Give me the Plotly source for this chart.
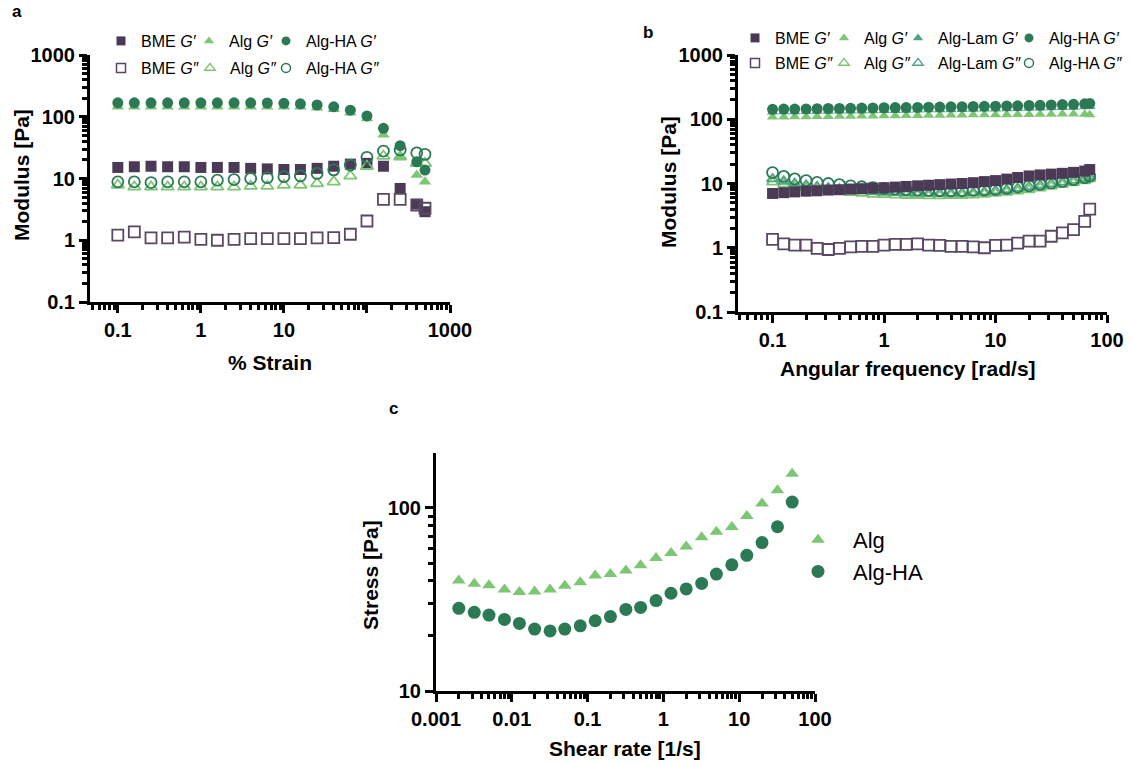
import plotly.graph_objects as go

W, H = 1132, 765
FONT = "Liberation Sans, Arial, sans-serif"

# ---------------- Panel a: strain sweep ----------------
strain = [0.1, 0.158, 0.251, 0.398, 0.631, 1.0, 1.58, 2.51, 3.98, 6.31,
          10, 15.8, 25.1, 39.8, 63.1, 100, 158, 251, 398, 500]
a_bme_gp = [15.1, 15.5, 15.8, 15.5, 15.5, 15.1, 15.1, 15.1, 14.6, 14.3,
            14.0, 14.0, 14.6, 15.8, 17.1, 17.6, 15.8, 6.9, 3.85, 2.9]
a_bme_gpp = [1.21, 1.37, 1.09, 1.09, 1.12, 1.03, 1.0, 1.03, 1.06, 1.06,
             1.06, 1.06, 1.09, 1.1, 1.25, 2.05, 4.6, 4.6, 3.7, 3.3]
a_alg_gp = [145, 145, 145, 145, 145, 145, 145, 145, 145, 145,
            145, 145, 140, 132, 116, 94, 51, 23, 11.4, 8.9]
a_alg_gpp = [7.8, 7.3, 7.3, 7.3, 7.3, 7.3, 7.3, 7.3, 7.5, 7.5,
             7.8, 7.8, 8.3, 8.85, 11, 15.8, 23, 22.5, 17.6, 17.6]
a_ha_gp = [168, 168, 168, 168, 168, 168, 168, 168, 168, 167,
           165, 162, 155, 145, 128, 103, 65, 34, 18.6, 13.7]
a_ha_gpp = [8.85, 8.85, 8.6, 8.85, 8.85, 8.85, 9.4, 9.6, 10.0, 10.3,
            10.7, 11.0, 12.1, 13.8, 16.5, 22, 27.8, 29, 26, 24.6]

# ---------------- Panel b: frequency sweep ----------------
freq = [0.1, 0.126, 0.158, 0.2, 0.251, 0.316, 0.398, 0.501, 0.631, 0.794,
        1.0, 1.26, 1.58, 2.0, 2.51, 3.16, 3.98, 5.01, 6.31, 7.94,
        10, 12.6, 15.8, 20, 25.1, 31.6, 39.8, 50.1, 63.1, 70]
b_bme_gp = [7.0, 7.2, 7.4, 7.6, 7.7, 7.9, 8.0, 8.2, 8.3, 8.5,
            8.6, 8.8, 9.0, 9.2, 9.4, 9.6, 9.8, 10.0, 10.3, 10.7,
            11.1, 11.7, 12.4, 13.1, 13.6, 14.0, 14.4, 14.9, 15.6, 16.5]
b_bme_gpp = [1.35, 1.15, 1.1, 1.1, 0.98, 0.94, 0.98, 1.03, 1.05, 1.05,
             1.1, 1.13, 1.13, 1.15, 1.1, 1.09, 1.05, 1.05, 1.03, 1.0,
             1.09, 1.1, 1.18, 1.27, 1.27, 1.51, 1.7, 1.92, 2.58, 3.98]
b_alg_gp = [108, 108, 109, 109, 110, 110, 111, 111, 112, 112,
            113, 113, 114, 114, 115, 115, 116, 116, 117, 117,
            118, 118, 119, 119, 120, 120, 121, 121, 120, 118]
b_alg_gpp = [10.5, 9.8, 9.1, 8.6, 8.2, 7.8, 7.5, 7.2, 7.0, 6.8,
             6.7, 6.6, 6.5, 6.5, 6.4, 6.4, 6.5, 6.5, 6.6, 6.8,
             7.0, 7.3, 7.6, 8.0, 8.5, 9.0, 9.6, 10.2, 11.0, 11.8]
b_lam_gp = [130, 131, 131, 132, 133, 133, 134, 135, 135, 136,
            137, 137, 138, 139, 140, 140, 141, 142, 143, 144,
            145, 146, 147, 148, 149, 151, 152, 154, 156, 158]
b_lam_gpp = [11.8, 10.8, 10.0, 9.4, 8.9, 8.5, 8.2, 7.9, 7.7, 7.5,
             7.3, 7.2, 7.1, 7.0, 7.0, 7.0, 7.0, 7.1, 7.2, 7.4,
             7.7, 8.0, 8.4, 8.9, 9.4, 9.9, 10.5, 11.2, 12.0, 12.8]
b_ha_gp = [143, 144, 144, 145, 146, 147, 147, 148, 149, 150,
           151, 152, 152, 153, 154, 155, 156, 157, 158, 159,
           160, 161, 162, 164, 165, 167, 169, 171, 174, 176]
b_ha_gpp = [14.8, 12.9, 11.8, 11.1, 10.4, 10.0, 9.6, 9.2, 8.9, 8.6,
            8.4, 8.2, 8.0, 7.9, 7.8, 7.7, 7.7, 7.7, 7.8, 7.9,
            8.1, 8.4, 8.8, 9.2, 9.7, 10.2, 10.8, 11.5, 12.3, 13.0]

# ---------------- Panel c: flow curve ----------------
shear = [0.002, 0.0032, 0.005, 0.008, 0.0126, 0.02, 0.032, 0.05, 0.08, 0.126,
         0.2, 0.32, 0.5, 0.8, 1.26, 2, 3.2, 5, 8, 12.6, 20, 32, 50]
c_alg = [40.2, 38.5, 37.8, 35.9, 34.7, 35.0, 35.9, 37.6, 39.3, 42.8,
         43.6, 45.5, 48.6, 53.3, 56.7, 61.5, 69.2, 74.2, 78.7, 90.2, 105.6, 124.8, 153.5]
c_ha = [28.3, 26.9, 26.0, 24.6, 23.4, 21.8, 21.3, 21.8, 22.7, 24.2,
        25.5, 27.9, 28.6, 31.2, 34.2, 36.1, 38.7, 43.5, 48.9, 55.1, 64.7, 78.9, 107.7]

BME = "#4b3a55"
BME_O = "#5a4863"
ALG = "#7cc674"
LAM = "#4ea584"
HA = "#2c7a55"

fig = go.Figure()


def add(xa, ya, x, y, symbol, color, size, lw=0):
    fig.add_trace(go.Scatter(
        x=x, y=y, mode="markers", xaxis=xa, yaxis=ya, showlegend=False,
        hoverinfo="skip",
        marker=dict(symbol=symbol, color=color, size=size,
                    line=dict(width=lw, color=color))))


def leg(name, symbol, color, legend, lw_px, size=9, olw=0):
    fig.add_trace(go.Scatter(
        x=[None], y=[None], mode="markers", name=name, legend=legend,
        legendwidth=lw_px, xaxis="x", yaxis="y", hoverinfo="skip",
        marker=dict(symbol=symbol, color=color, size=size,
                    line=dict(width=olw, color=color))))


# panel a
add("x", "y", strain, a_bme_gp, "square", BME, 11)
add("x", "y", strain, a_bme_gpp, "square-open", BME_O, 11, 1.8)
add("x", "y", strain, a_alg_gp, "triangle-up", ALG, 11)
add("x", "y", strain, a_alg_gpp, "triangle-up-open", ALG, 11, 1.8)
add("x", "y", strain, a_ha_gp, "circle", HA, 11)
add("x", "y", strain, a_ha_gpp, "circle-open", HA, 11, 1.8)

# panel b
add("x2", "y2", freq, b_bme_gpp, "square-open", BME_O, 11, 1.8)
add("x2", "y2", freq, b_alg_gp, "triangle-up", ALG, 10)
add("x2", "y2", freq, b_alg_gpp, "triangle-up-open", ALG, 10, 1.8)
add("x2", "y2", freq, b_lam_gp, "triangle-up", LAM, 10)
add("x2", "y2", freq, b_lam_gpp, "triangle-up-open", LAM, 10, 1.8)
add("x2", "y2", freq, b_ha_gp, "circle", HA, 11)
add("x2", "y2", freq, b_ha_gpp, "circle-open", HA, 11, 1.8)
add("x2", "y2", freq, b_bme_gp, "square", BME, 11)

# panel c
add("x3", "y3", shear, c_alg, "triangle-up", ALG, 12)
add("x3", "y3", shear, c_ha, "circle", HA, 13)

# legends
leg("BME <i>G′</i>", "square", BME, "legend", 43)
leg("Alg <i>G′</i>", "triangle-up", ALG, "legend", 32)
leg("Alg-HA <i>G′</i>", "circle", HA, "legend", 82)
leg("BME <i>G″</i>", "square-open", BME_O, "legend2", 44, 9, 1.5)
leg("Alg <i>G″</i>", "triangle-up-open", ALG, "legend2", 31, 9, 1.5)
leg("Alg-HA <i>G″</i>", "circle-open", HA, "legend2", 82, 9, 1.5)

leg("BME <i>G′</i>", "square", BME, "legend3", 44)
leg("Alg <i>G′</i>", "triangle-up", ALG, "legend3", 29)
leg("Alg-Lam <i>G′</i>", "triangle-up", LAM, "legend3", 66)
leg("Alg-HA <i>G′</i>", "circle", HA, "legend3", 76)
leg("BME <i>G″</i>", "square-open", BME_O, "legend4", 44, 9, 1.5)
leg("Alg <i>G″</i>", "triangle-up-open", ALG, "legend4", 29, 9, 1.5)
leg("Alg-Lam <i>G″</i>", "triangle-up-open", LAM, "legend4", 66, 9, 1.5)
leg("Alg-HA <i>G″</i>", "circle-open", HA, "legend4", 76, 9, 1.5)

leg("Alg", "triangle-up", ALG, "legend5", 60, 12)
leg("Alg-HA", "circle", HA, "legend5", 60, 13)


def dom_x(a, b):
    return [a / W, b / W]


def dom_y(top, bottom):
    return [1 - bottom / H, 1 - top / H]


def minor_vals(e0, e1):
    return [m * 10 ** e for e in range(e0, e1) for m in range(2, 10)]


def axis(domain, rng, tickvals, ticktext, minors, anchor):
    return dict(
        type="log", domain=domain, range=rng, anchor=anchor,
        showline=True, linewidth=3, linecolor="black", mirror=False,
        showgrid=False, zeroline=False,
        ticks="outside", ticklen=8, tickwidth=3, tickcolor="black",
        tickmode="array", tickvals=tickvals, ticktext=ticktext,
        tickfont=dict(family=FONT, size=20, color="black", weight="bold"),
        minor=dict(ticks="outside", ticklen=5, tickwidth=2.5, tickcolor="black",
                   tickmode="array", tickvals=minors, showgrid=False),
    )


leg_common = dict(orientation="h", xanchor="left", yanchor="middle",
                  font=dict(family=FONT, size=16, color="black"),
                  bgcolor="rgba(0,0,0,0)", borderwidth=0, itemclick=False,
                  itemdoubleclick=False, entrywidthmode="pixels")

fig.update_layout(
    width=W, height=H,
    margin=dict(l=0, r=0, t=0, b=0, autoexpand=False),
    paper_bgcolor="white", plot_bgcolor="white",
    font=dict(family=FONT, color="black"),
    xaxis=axis(dom_x(90, 450), [-1.335, 3], [0.1, 1, 10, 100, 1000],
               ["0.1", "1", "10", "", "1000"], minor_vals(-2, 3), "y"),
    yaxis=axis(dom_y(55, 302), [-1, 3], [0.1, 1, 10, 100, 1000],
               ["0.1", "1", "10", "100", "1000"], minor_vals(-1, 3), "x"),
    xaxis2=axis(dom_x(738, 1107), [-1.31, 2], [0.1, 1, 10, 100],
                ["0.1", "1", "10", "100"], minor_vals(-2, 2), "y2"),
    yaxis2=axis(dom_y(55, 312), [-1, 3], [0.1, 1, 10, 100, 1000],
                ["0.1", "1", "10", "100", "1000"], minor_vals(-1, 3), "x2"),
    xaxis3=axis(dom_x(436, 815), [-3, 2], [0.001, 0.01, 0.1, 1, 10, 100],
                ["0.001", "0.01", "0.1", "1", "10", "100"], minor_vals(-3, 2), "y3"),
    yaxis3=axis(dom_y(453, 691), [1, 2.30], [10, 100], ["10", "100"],
                minor_vals(1, 2), "x3"),
    legend=dict(leg_common, x=(123 - 22) / W, y=1 - 41 / H),
    legend2=dict(leg_common, x=(123 - 22) / W, y=1 - 68 / H),
    legend3=dict(leg_common, x=(757 - 22) / W, y=1 - 38 / H),
    legend4=dict(leg_common, x=(757 - 22) / W, y=1 - 63 / H),
    legend5=dict(orientation="v", xanchor="left", yanchor="middle",
                 x=(820 - 37) / W, y=1 - 556 / H, itemwidth=60,
                 font=dict(family=FONT, size=22, color="black"),
                 bgcolor="rgba(0,0,0,0)", itemclick=False, itemdoubleclick=False,
                 tracegroupgap=6),
)

ann = [
    ("<b>a</b>", 17, 12, 0, 17),
    ("<b>b</b>", 648, 33, 0, 17),
    ("<b>c</b>", 393, 408, 0, 17),
    ("<b>Modulus [Pa]</b>", 22, 175, -90, 21),
    ("<b>% Strain</b>", 270, 362, 0, 21),
    ("<b>Modulus [Pa]</b>", 668, 182, -90, 21),
    ("<b>Angular frequency [rad/s]</b>", 908, 368, 0, 21),
    ("<b>Stress [Pa]</b>", 370, 575, -90, 21),
    ("<b>Shear rate [1/s]</b>", 625, 748, 0, 21),
]
for text, x, y, rot, size in ann:
    fig.add_annotation(text=text, x=x / W, y=1 - y / H, xref="paper", yref="paper",
                       showarrow=False, textangle=rot, xanchor="center", yanchor="middle",
                       font=dict(family=FONT, size=size, color="black"))

fig.write_html(
    "out.html",
    config={"displayModeBar": False},
    post_script="document.body.style.margin='0px';document.body.style.overflow='hidden';",
)
